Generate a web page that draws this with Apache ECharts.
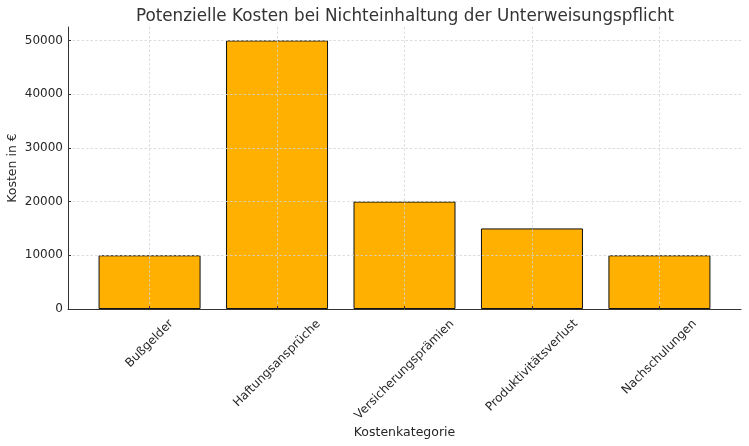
<!DOCTYPE html>
<html>
<head>
<meta charset="utf-8">
<script src="https://cdn.jsdelivr.net/npm/echarts@6/dist/echarts.min.js"></script>
<style>
  html, body { margin: 0; padding: 0; background: #fff; }
  #chart { width: 749px; height: 446px; }
</style>
</head>
<body>
<div id="chart"></div>
<script>
const categories = ['Bußgelder', 'Haftungsansprüche', 'Versicherungsprämien', 'Produktivitätsverlust', 'Nachschulungen']
const costs = [10000, 50000, 20000, 15000, 10000]
const yTicks = [0, 10000, 20000, 30000, 40000, 50000]

const FONT = 'DejaVu Sans'
const TICK_SIZE = 12
const positions = categories.map((_, i) => i)

// matplotlib centres rotated tick labels under the tick; fake it with per-label padding
const measure = document.createElement('canvas').getContext('2d')
measure.font = TICK_SIZE + 'px "' + FONT + '"'
const rich = {}
categories.forEach((name, i) => {
    const w = measure.measureText(name).width
    const pad = Math.round(8 / 0.707 + (w + 14) / 2)
    rich['c' + i] = { fontFamily: FONT, fontSize: TICK_SIZE, color: '#262626', padding: [pad, pad, 0, 0] }
})

const gridLine = { show: true, lineStyle: { type: [2.5, 2], color: '#d4d4d4', width: 0.8 } }

const chart = echarts.init(document.getElementById('chart'))
chart.setOption({
    animation: false,
    title: {
        text: 'Potenzielle Kosten bei Nichteinhaltung der Unterweisungspflicht',
        left: 400, top: 3, textAlign: 'center',
        textStyle: { fontFamily: FONT, fontSize: 16.8, fontWeight: 'normal', color: '#333' }
    },
    grid: { left: 68, right: 8, top: 27, bottom: 137, outerBoundsMode: 'none', containLabel: false },
    xAxis: {
        type: 'value',
        min: -0.64,
        max: 4.64,
        z: 3,
        name: 'Kostenkategorie',
        nameLocation: 'middle',
        nameGap: 117,
        nameMoveOverlap: false,
        nameTextStyle: { fontFamily: FONT, fontSize: 12.5, color: '#262626' },
        axisLine: { onZero: false, lineStyle: { color: '#333', width: 1 } },
        axisTick: { show: true, inside: true, length: 3, customValues: positions, lineStyle: { color: '#333' } },
        axisLabel: {
            customValues: positions,
            rotate: 45,
            align: 'center',
            verticalAlign: 'middle',
            margin: 0,
            hideOverlap: false,
            formatter: (v) => {
                const i = Math.round(v)
                return '{c' + i + '|' + categories[i] + '}'
            },
            rich
        },
        splitLine: Object.assign({ customValues: positions }, gridLine)
    },
    yAxis: {
        type: 'value',
        min: 0,
        max: 52500,
        z: 3,
        name: 'Kosten in €',
        nameLocation: 'middle',
        nameGap: 49,
        nameMoveOverlap: false,
        nameTextStyle: { fontFamily: FONT, fontSize: 12.5, color: '#262626' },
        axisLine: { show: true, onZero: false, lineStyle: { color: '#333', width: 1 } },
        axisTick: { show: true, inside: true, length: 3, customValues: yTicks, lineStyle: { color: '#333' } },
        axisLabel: {
            customValues: yTicks,
            formatter: (v) => String(v),
            fontFamily: FONT, fontSize: TICK_SIZE, color: '#262626', margin: 5
        },
        splitLine: Object.assign({ customValues: yTicks }, gridLine)
    },
    series: [{
        type: 'bar',
        data: costs.map((v, i) => [i, v]),
        barWidth: 102,
        itemStyle: { color: '#FFB000', borderColor: '#111', borderWidth: 1 }
    }]
})
</script>
</body>
</html>
